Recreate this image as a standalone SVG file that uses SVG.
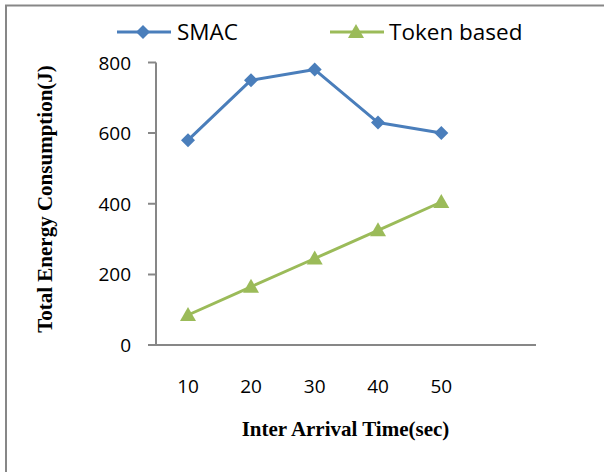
<svg xmlns="http://www.w3.org/2000/svg" width="604" height="472" viewBox="0 0 604 472">
  <style>
    .frame { stroke: #878787; stroke-width: 2; fill: none; }
    .axis { stroke: #878787; stroke-width: 2; fill: none; }
    .tick-label { font-family: "Open Sans", "Liberation Sans", sans-serif; font-size: 19px; fill: #000; }
    .axis-title { font-family: "Liberation Serif", serif; font-size: 21px; font-weight: bold; fill: #000; }
    .legend-label { font-family: "Open Sans", "Liberation Sans", sans-serif; font-size: 22.5px; fill: #000; }
    .smac-line { stroke: #4A7EBB; stroke-width: 3; fill: none; stroke-linejoin: round; }
    .token-line { stroke: #9BBB59; stroke-width: 3; fill: none; stroke-linejoin: round; }
    .smac-mark { fill: #4A7EBB; }
    .token-mark { fill: #9BBB59; }
  </style>
  <defs>
    <path id="diamond" d="M0,-7 L7,0 L0,7 L-7,0 Z"/>
    <path id="triangle" d="M0,-8 L8,6 L-8,6 Z"/>
  </defs>

  <rect width="604" height="472" fill="#ffffff"/>

  <!-- outer frame: top and left edges -->
  <path class="frame" d="M6,472 V5.5 H604"/>

  <!-- axes and ticks -->
  <g id="axes">
    <path class="axis" d="M156,62.5 V345 M148,345 H536"/>
    <path class="axis" d="M148,62.5 H156 M148,133 H156 M148,203.8 H156 M148,274.4 H156"/>
  </g>

  <!-- y tick labels -->
  <g id="y-labels" class="tick-label" text-anchor="end">
    <text x="131" y="69.5">800</text>
    <text x="131" y="140">600</text>
    <text x="131" y="210.5">400</text>
    <text x="131" y="281">200</text>
    <text x="131" y="351.5">0</text>
  </g>

  <!-- x tick labels -->
  <g id="x-labels" class="tick-label" text-anchor="middle">
    <text x="188" y="393">10</text>
    <text x="251" y="393">20</text>
    <text x="314.7" y="393">30</text>
    <text x="378" y="393">40</text>
    <text x="441.3" y="393">50</text>
  </g>

  <!-- axis titles -->
  <text class="axis-title" x="345.5" y="436" text-anchor="middle">Inter Arrival Time(sec)</text>
  <text class="axis-title" transform="translate(52,199) rotate(-90)" text-anchor="middle">Total Energy Consumption(J)</text>

  <!-- data series -->
  <g id="connectors">
    <polyline class="smac-line" points="188,140.2 251,80.2 314.7,69.6 378,122.6 441.3,133"/>
    <polyline class="token-line" points="188,315 251,286.8 314.7,258.5 378,230.3 441.3,202"/>
  </g>

  <g id="smac-points" class="smac-mark">
    <use href="#diamond" x="188" y="140.2"/>
    <use href="#diamond" x="251" y="80.2"/>
    <use href="#diamond" x="314.7" y="69.6"/>
    <use href="#diamond" x="378" y="122.6"/>
    <use href="#diamond" x="441.3" y="133"/>
  </g>

  <g id="token-points" class="token-mark">
    <use href="#triangle" x="188" y="315"/>
    <use href="#triangle" x="251" y="286.8"/>
    <use href="#triangle" x="314.7" y="258.5"/>
    <use href="#triangle" x="378" y="230.3"/>
    <use href="#triangle" x="441.3" y="202"/>
  </g>

  <!-- legend -->
  <g id="legend-smac">
    <line class="smac-line" x1="117" y1="32" x2="171" y2="32"/>
    <use class="smac-mark" href="#diamond" x="143" y="32"/>
    <text class="legend-label" x="177" y="39.5">SMAC</text>
  </g>
  <g id="legend-token">
    <line class="token-line" x1="330" y1="32" x2="384" y2="32"/>
    <use class="token-mark" href="#triangle" x="356" y="32"/>
    <text class="legend-label" x="389" y="39.5">Token based</text>
  </g>
</svg>
